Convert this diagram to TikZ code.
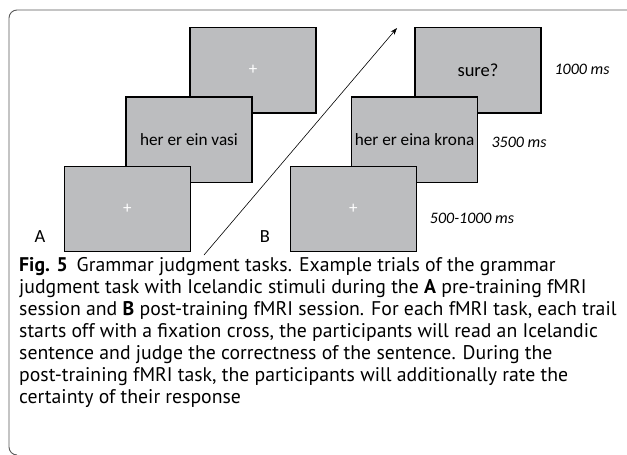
\documentclass[tikz,border=0pt]{standalone}
\usepackage{fontspec}
\setmainfont{Carlito}
\newfontfamily\capfont{PT Sans}
\usetikzlibrary{arrows.meta}
\definecolor{scr}{RGB}{188,189,191}
\begin{document}
\begin{tikzpicture}[x=1pt,y=-1pt,
  screen/.style={draw=black,line width=1.4pt,fill=scr,minimum width=126pt,minimum height=85.5pt,inner sep=0pt,font=\fontsize{17.2}{19}\selectfont},
  fix/.style={text=white,font=\fontsize{17}{18}\selectfont},
  timelbl/.style={font=\itshape\fontsize{16}{18}\selectfont},
  panel/.style={font=\fontsize{18.5}{20}\selectfont}]
\useasboundingbox (0,0) rectangle (627,455);
\draw[line width=0.9pt,color=black!65,rounded corners=8pt] (627,10) -- (9,10) -- (9,455) -- (14,455);
% Panel A
\node[screen] (a3) at (253,70.3) {};
\node[fix] (a3p) at (a3.center) {+};
\node[screen] (a2) at (189,139.7) {her er ein vasi};
\node[screen] (a1) at (127.3,209) {};
\node[fix] (a1p) at (a1.center) {+};
\node[panel] (la) at (40,237) {A};
% arrow
\coordinate (arS) at (204,255);
\coordinate (arE) at (397,28);
\draw[line width=0.6pt,-{Stealth[length=7pt,width=5pt]}] (arS) -- (arE);
% Panel B
\node[screen,font=\fontsize{18.5}{21}\selectfont] (b3) at (478,70.3) {sure?};
\node[screen] (b2) at (414.5,139.7) {her er eina krona};
\node[screen] (b1) at (353.3,209) {};
\node[fix] (b1p) at (b1.center) {+};
\node[panel] (lb) at (265,237) {B};
% times
\node[timelbl] (t1) at (582,69) {1000 ms};
\node[timelbl] (t2) at (519,142) {3500 ms};
\node[timelbl] (t3) at (472,218) {500-1000 ms};
% caption
\node[anchor=north west,align=left,inner sep=0pt,font=\capfont\fontsize{19.75}{22}\selectfont] (cap) at (19,257) {%
\textbf{Fig. 5}\hspace{0.45em}Grammar judgment tasks. Example trials of the grammar\\
judgment task with Icelandic stimuli during the \textbf{A} pre-training fMRI\\
session and \textbf{B} post-training fMRI session. For each fMRI task, each trail\\
starts off with a fixation cross, the participants will read an Icelandic\\
sentence and judge the correctness of the sentence. During the\\
post-training fMRI task, the participants will additionally rate the\\
certainty of their response};
\end{tikzpicture}
\end{document}
